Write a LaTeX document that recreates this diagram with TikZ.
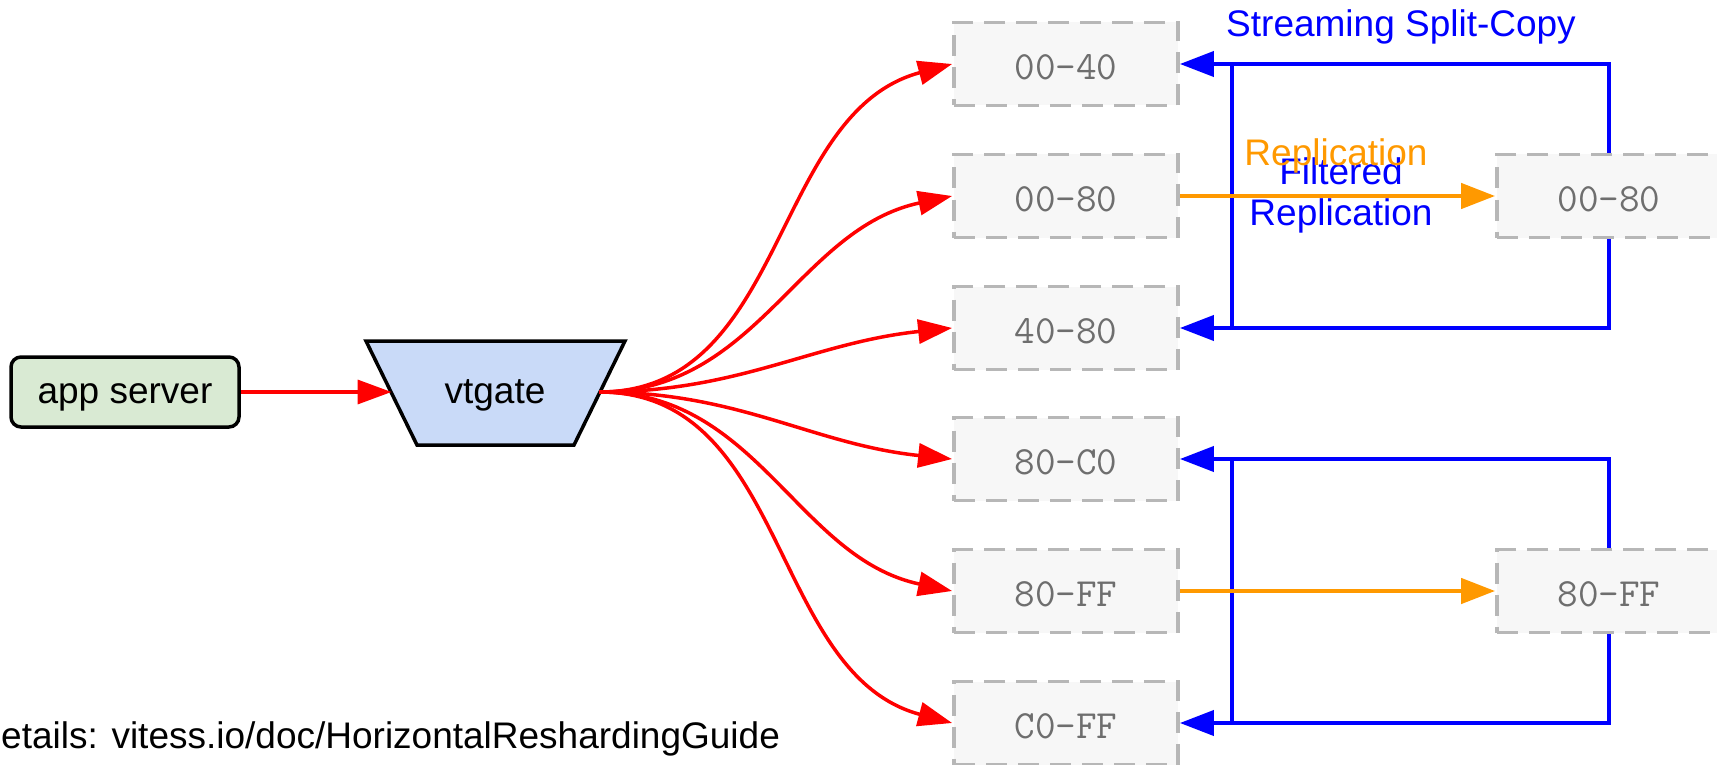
\documentclass[tikz,border=0pt]{standalone}
\usepackage{fontspec}
\setmainfont{Liberation Sans}
\usetikzlibrary{arrows.meta,calc}
\definecolor{shardfill}{HTML}{F7F7F7}
\definecolor{sharddraw}{HTML}{B7B7B7}
\definecolor{shardtext}{HTML}{6E6E6E}
\definecolor{appfill}{HTML}{D9EAD3}
\definecolor{vtfill}{HTML}{C9DAF8}
\definecolor{orng}{HTML}{FF9900}
\begin{document}
\begin{tikzpicture}[x=1pt,y=-1pt,
  shard/.style={draw=sharddraw, fill=shardfill, line width=3.8pt, dash pattern=on 21pt off 11pt,
    minimum width=224pt, minimum height=83pt, inner sep=0pt,
    text height=31pt, text depth=0pt,
    font=\fontsize{40pt}{44pt}\ttfamily, text=shardtext},
  lbl/.style={font=\fontsize{37pt}{41pt}\selectfont, inner sep=0pt},
  redarr/.style={draw=red, line width=3.5pt, -{Triangle[length=34pt,width=24pt]}},
  bluearr/.style={draw=blue, line width=4pt, -{Triangle[length=34pt,width=25pt]}},
  blueline/.style={draw=blue, line width=4pt},
  orarr/.style={draw=orng, line width=4.5pt, -{Triangle[length=34pt,width=25pt]}}
]
\useasboundingbox (0,0) rectangle (1717,765);

% app server
\node[draw=black, line width=3.5pt, fill=appfill, rounded corners=10pt,
      minimum width=228pt, minimum height=70pt, inner sep=0pt,
      text height=23pt, text depth=0pt,
      font=\fontsize{37pt}{41pt}\selectfont] (app) at (125,392) {app server};

% vtgate trapezoid
\draw[fill=vtfill, line width=3.5pt, line join=miter] (366,341) -- (625,341) -- (574,445) -- (417,445) -- cycle;
\node[lbl, text height=23pt, text depth=0pt] (vt) at (495,392) {vtgate};
\coordinate (vtL) at (391.5,392);
\coordinate (vtR) at (599.5,392);

% left shards
\node[shard] (s1) at (1066,64)  {00-40};
\node[shard] (s2) at (1066,196) {00-80};
\node[shard] (s3) at (1066,328) {40-80};
\node[shard] (s4) at (1066,459) {80-C0};
\node[shard] (s5) at (1066,591) {80-FF};
\node[shard] (s6) at (1066,723) {C0-FF};

% right shards
\node[shard] (r1) at (1609,196) {00-80};
\node[shard] (r2) at (1609,591) {80-FF};

% red connectors
\draw[redarr] (app.east) -- (vtL);
\draw[redarr] (vtR) to[out=0,in=195] (s1.west);
\draw[redarr] (vtR) to[out=0,in=192] (s2.west);
\draw[redarr] (vtR) to[out=0,in=186] (s3.west);
\draw[redarr] (vtR) to[out=0,in=174] (s4.west);
\draw[redarr] (vtR) to[out=0,in=168] (s5.west);
\draw[redarr] (vtR) to[out=0,in=165] (s6.west);

% blue split-copy
\draw[bluearr] (r1.north) -- (r1.north |- s1.east) -- (s1.east);
\draw[bluearr] (r1.south) -- (r1.south |- s3.east) -- (s3.east);
\draw[blueline] ($(s1.east)+(52,0)$) -- ($(s3.east)+(52,0)$);
\draw[bluearr] (r2.north) -- (r2.north |- s4.east) -- (s4.east);
\draw[bluearr] (r2.south) -- (r2.south |- s6.east) -- (s6.east);
\draw[blueline] ($(s4.east)+(52,0)$) -- ($(s6.east)+(52,0)$);

% labels
\node[lbl, text=blue] (ssc) at (1401,27) {Streaming Split-Copy};
\node[lbl, text=blue, align=center] (frep) at (1341,195) {Filtered\\Replication};
\node[lbl, text=orng] (orep) at (1336,156) {Replication};

% orange replication
\draw[orarr] (s2.east) -- (r1.west);
\draw[orarr] (s5.east) -- (r2.west);

% footer
\node[lbl, anchor=base west] (foot) at (1,748) {etails: vitess.io/doc/HorizontalReshardingGuide};
\end{tikzpicture}
\end{document}
